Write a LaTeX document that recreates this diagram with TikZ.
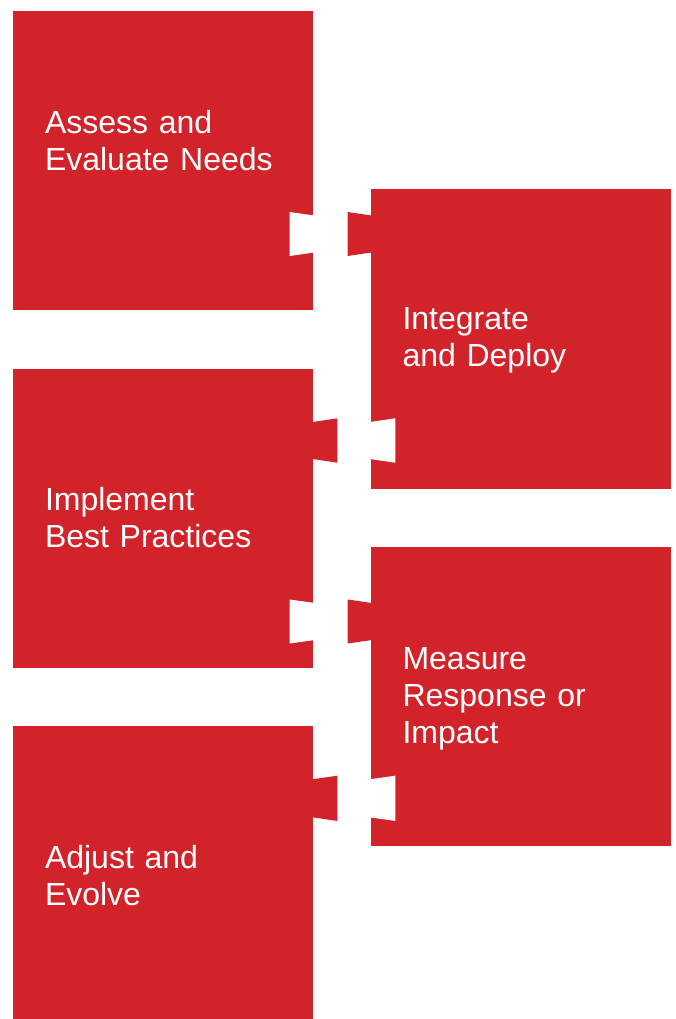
\documentclass[tikz,border=0pt]{standalone}
\usepackage{fontspec}
\setmainfont{Liberation Sans}
\usetikzlibrary{positioning, calc}
\definecolor{puzzlered}{RGB}{210,35,42}

\begin{document}
\begin{tikzpicture}[x=0.75pt, y=-0.75pt]
    \tikzstyle{stage} = [rectangle, fill=puzzlered, inner sep=0pt, minimum width=225pt, minimum height=224.25pt]
    \tikzstyle{caption} = [anchor=base west, inner sep=0pt, text=white, text width=177pt, align=left, font=\fontsize{24}{27.6}\selectfont]
    \tikzstyle{notch} = [fill=white]
    \tikzstyle{tab} = [fill=puzzlered]

    \useasboundingbox [fill=white] (0,0) rectangle (675,1019);

    \node [stage] (s1) at (163,160.5) {};
    \node [stage, right=42.75pt of s1, yshift=-133.875pt] (s2) {};
    \node [stage, below=43.5pt of s1] (s3) {};
    \node [stage, below=43.5pt of s2] (s4) {};
    \node [stage, below=43.5pt of s3] (s5) {};

    % joints between neighbouring pieces
    \coordinate (j12) at (0,234);
    \coordinate (j23) at (0,440.5);
    \coordinate (j34) at (0,621.5);
    \coordinate (j45) at (0,798.3);

    \fill [notch] ($(s1.east |- j12)+(1,-18.5)$) -- ++(-24.7,-3.5) -- ++(0,44) -- ++(24.7,-3.5) -- cycle;
    \fill [tab] ($(s2.west |- j12)+(1,-18.5)$) -- ++(-23.7,-3.5) -- ++(0,44) -- ++(23.7,-3.5) -- cycle;

    \fill [tab] ($(s3.east |- j23)+(-1,-18.4)$) -- ++(25,-3.8) -- ++(0,44.4) -- ++(-25,-3.8) -- cycle;
    \fill [notch] ($(s2.west |- j23)+(-1,-18.4)$) -- ++(26,-3.8) -- ++(0,44.4) -- ++(-26,-3.8) -- cycle;

    \fill [notch] ($(s3.east |- j34)+(1,-18.6)$) -- ++(-24.7,-3.4) -- ++(0,44) -- ++(24.7,-3.4) -- cycle;
    \fill [tab] ($(s4.west |- j34)+(1,-18.6)$) -- ++(-23.7,-3.4) -- ++(0,44) -- ++(23.7,-3.4) -- cycle;

    \fill [tab] ($(s5.east |- j45)+(-1,-19)$) -- ++(25,-3.6) -- ++(0,45.2) -- ++(-25,-3.6) -- cycle;
    \fill [notch] ($(s4.west |- j45)+(-1,-19)$) -- ++(26,-3.6) -- ++(0,45.2) -- ++(-26,-3.6) -- cycle;

    \node [caption] (t1) at ($(s1.north west)+(32,123)$) {Assess and\\Evaluate Needs};
    \node [caption] (t2) at ($(s2.north west)+(32,140)$) {Integrate\\and Deploy};
    \node [caption] (t3) at ($(s3.north west)+(32,142)$) {Implement\\Best Practices};
    \node [caption] (t4) at ($(s4.north west)+(32,123)$) {Measure\\Response or\\Impact};
    \node [caption] (t5) at ($(s5.north west)+(32,143)$) {Adjust and\\Evolve};
\end{tikzpicture}
\end{document}
